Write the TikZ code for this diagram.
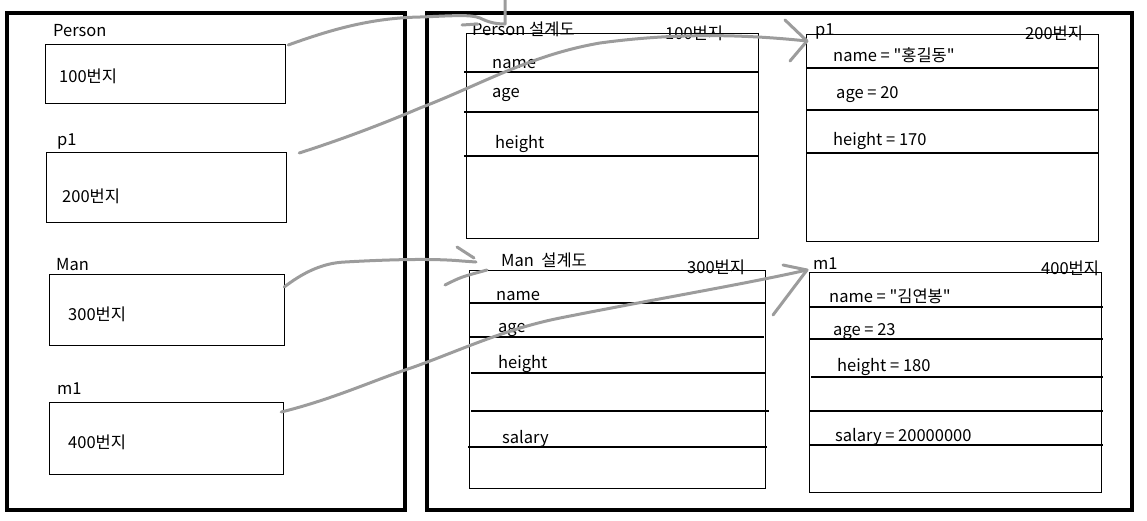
\documentclass[tikz,border=0pt]{standalone}
\usepackage{fontspec}
\newfontfamily\kr{Noto Sans CJK KR}
\usepackage{tikz}
\usetikzlibrary{calc}
\definecolor{ink}{HTML}{000000}
\definecolor{scribble}{HTML}{9C9C9C}
\tikzset{
  frame/.style  = {draw=ink, line width=4.5pt},
  membox/.style = {rectangle, draw=ink, line width=1.2pt, inner sep=0pt, anchor=north west},
  rule/.style   = {draw=ink, line width=1.2pt},
  txt/.style    = {font=\kr\fontsize{16.5}{19}\selectfont, inner sep=0pt, anchor=base west},
  scrib/.style  = {draw=scribble, line width=3pt, line cap=round, line join=round},
}

\begin{document}
\begin{tikzpicture}[x=1pt, y=-1pt]
  \useasboundingbox (0,0) rectangle (1147,520);

  % ----- frames -----
  \draw[frame] (7,13) rectangle (405,510);
  \draw[frame] (427,13) rectangle (1132,510);

  % ----- stack side -----
  \node[membox, minimum width=240pt, minimum height=59pt] (personref) at (45,44) {};
  \node[membox, minimum width=240pt, minimum height=70pt] (p1ref) at (46,152) {};
  \node[membox, minimum width=235pt, minimum height=71pt] (manref) at (49,274) {};
  \node[membox, minimum width=234pt, minimum height=72pt] (m1ref) at (49,402) {};
  \node[txt] (personlbl) at (53,36) {Person};
  \node[txt] (personadr) at (59,82) {100번지};
  \node[txt] (p1lbl) at (57,145) {p1};
  \node[txt] (p1adr) at (62,202) {200번지};
  \node[txt] (manlbl) at (56,270) {Man};
  \node[txt] (manadr) at (68,320) {300번지};
  \node[txt] (m1lbl) at (57,394) {m1};
  \node[txt] (m1adr) at (68,448) {400번지};

  % ----- Person class -----
  \node[membox, minimum width=292pt, minimum height=205pt] (persontbl) at (466,33) {};
  \foreach \y in {72,112,156}
     {\draw[rule] (464,\y) -- (759,\y);}
  \node[txt] (persontitle) at (472,35) {Person 설계도};
  \node[txt] (persontag) at (665,39) {100번지};
  \node[txt] (personname) at (492,68) {name};
  \node[txt] (personage) at (492,97) {age};
  \node[txt] (personheight) at (495,148) {height};

  % ----- p1 object -----
  \node[membox, minimum width=292pt, minimum height=207pt] (p1tbl) at (806,34) {};
  \foreach \y in {68,110,153}
     {\draw[rule] (806,\y) -- (1098,\y);}
  \node[txt] (p1title) at (815,35) {p1};
  \node[txt] (p1tag) at (1025,39) {200번지};
  \node[txt] (p1name) at (833,61) {name = "홍길동"};
  \node[txt] (p1age) at (836,98) {age = 20};
  \node[txt] (p1height) at (833,145) {height = 170};

  % ----- Man class -----
  \node[membox, minimum width=296pt, minimum height=218pt] (mantbl) at (469,270) {};
  \foreach \y/\xa/\xb in {303/469/765, 337/469/764, 373/471/765, 411/471/769, 447/468/767}
     {\draw[rule] (\xa,\y) -- (\xb,\y);}
  \node[txt] (mantitle) at (501,266) {Man\ \ 설계도};
  \node[txt] (mantag) at (687,273) {300번지};
  \node[txt] (manname) at (496,300) {name};
  \node[txt] (manage) at (498,332) {age};
  \node[txt] (manheight) at (498,368) {height};
  \node[txt] (mansalary) at (502,443) {salary};

  % ----- m1 object -----
  \node[membox, minimum width=292pt, minimum height=220pt] (m1tbl) at (809,272) {};
  \foreach \y/\xa in {307/809, 339/809, 377/811, 411/809, 445/809}
     {\draw[rule] (\xa,\y) -- (1103,\y);}
  \node[txt] (m1title) at (813,269) {m1};
  \node[txt] (m1tag) at (1041,274) {400번지};
  \node[txt] (m1name) at (829,302) {name = "김연봉"};
  \node[txt] (m1age) at (833,335) {age = 23};
  \node[txt] (m1height) at (837,371) {height = 180};
  \node[txt] (m1salary) at (835,441) {salary = 20000000};

  % ----- scribbled references -----
  \coordinate (tip1) at (505,24);
  \draw[scrib] ($(personref.north east)+(2,1)$) .. controls (330,30) and (370,18) .. (420,17)
     .. controls (450,16) and (470,14) .. (480,18) .. controls (488,22) and (495,24) .. (tip1);
  \draw[scrib] (505,0) -- (tip1) (462,25) -- (478,24);

  \coordinate (tip2) at (807,41);
  \draw[scrib] ($(p1ref.north east)+(12,1)$) .. controls (340,140) and (380,125) .. (420,108)
     .. controls (480,85) and (530,55) .. (600,43) .. controls (680,32) and (750,35) .. (tip2);
  \draw[scrib] ($(tip2)+(-22,-21)$) -- (tip2) -- ($(tip2)+(-17,20)$);

  \coordinate (tip3) at (476,262);
  \draw[scrib] ($(manref.north east)+(-1,13)$) .. controls (300,275) and (320,263) .. (345,262)
     .. controls (380,260) and (430,258) .. (462,261) -- (tip3);
  \draw[scrib] ($(tip3)+(-19,-15)$) .. controls ($(tip3)+(-10,-10)$) .. ($(tip3)+(-2,-4)$)
     ($(tip3)+(-31,23)$) .. controls ($(tip3)+(-15,15)$) .. ($(tip3)+(11,8)$);

  \coordinate (tip4) at (807,270);
  \draw[scrib] ($(m1ref.north east)+(-3,10)$) .. controls (330,400) and (370,382) .. (405,370)
     .. controls (450,355) and (500,330) .. (560,318) .. controls (650,300) and (740,285) .. (tip4);
  \draw[scrib] ($(tip4)+(-24,-5)$) -- (tip4) -- ($(tip4)+(-34,45)$);

\end{tikzpicture}
\end{document}
